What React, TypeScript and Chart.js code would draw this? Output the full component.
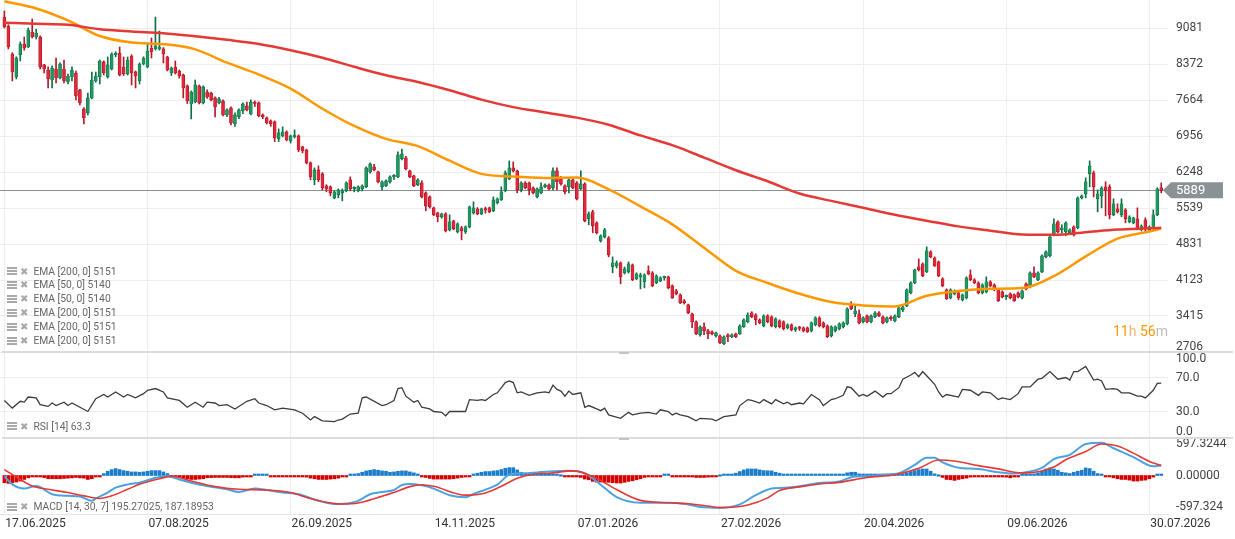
import React, { useEffect, useRef } from "react";
import { Chart, registerables } from "chart.js";

Chart.register(...registerables);

// ---------- data ----------
const dateLabels = ["17.06.2025", "07.08.2025", "26.09.2025", "14.11.2025", "07.01.2026", "27.02.2026", "20.04.2026", "09.06.2026", "30.07.2026"];
const dateTickIdx = [0, 36, 72, 108, 144, 180, 216, 252, 288];
const priceTicks = [2706, 3415, 4123, 4831, 5539, 6248, 6956, 7664, 8372, 9081];
const rsiTicks = [0, 30, 70, 100];
const macdTicks = [-597.324, 0, 597.3244];
const macdTickLabels = ["-597.324", "0.00000", "597.3244"];
const lastPrice = 5889;

// [open, high, low, close]
const ohlc: number[][] = [
  [9303, 9421, 9087, 9107], [9126, 9150, 8674, 8713], [8575, 8600, 8044, 8221], [8122, 8520, 8083, 8496], [8556, 8811, 8438, 8772],
  [8772, 8910, 8650, 8693], [8713, 9087, 8700, 9047], [9008, 9264, 8890, 8910], [8910, 9060, 8870, 8988], [8910, 8930, 8280, 8320],
  [8359, 8370, 8200, 8280], [8260, 8320, 7906, 8083], [8063, 8340, 7906, 8299], [8280, 8496, 8003, 8103], [8103, 8400, 8083, 8378],
  [8280, 8457, 8003, 8044], [8024, 8181, 7985, 8142], [8122, 8320, 8044, 8260], [8201, 8240, 7670, 7749], [7867, 7880, 7571, 7611],
  [7493, 7520, 7198, 7316], [7414, 7807, 7375, 7709], [7709, 8220, 7690, 8063], [8044, 8220, 8020, 8142], [8122, 8457, 7985, 8437],
  [8418, 8440, 8162, 8201], [8122, 8516, 8100, 8359], [8280, 8600, 8260, 8575], [8560, 8620, 8520, 8590], [8595, 8713, 8142, 8162],
  [8319, 8516, 8150, 8181], [8181, 8516, 8160, 8457], [8536, 8560, 7965, 8201], [8221, 8240, 7906, 8142], [8044, 8400, 7985, 8378],
  [8378, 8520, 8360, 8496], [8319, 8772, 8300, 8634], [8693, 8890, 8496, 8614], [8674, 9303, 8650, 8733], [8674, 9028, 8650, 8713],
  [8674, 8700, 8398, 8575], [8516, 8530, 8240, 8260], [8201, 8320, 8150, 8299], [8319, 8437, 8180, 8201], [8240, 8260, 8100, 8142],
  [8162, 8180, 7709, 7906], [7946, 7965, 7600, 7650], [7591, 7846, 7296, 7827], [7630, 8063, 7611, 7965], [7946, 7965, 7591, 7611],
  [7611, 7946, 7591, 7926], [7827, 7867, 7700, 7729], [7807, 7827, 7650, 7670], [7709, 7729, 7335, 7532], [7611, 7720, 7590, 7690],
  [7650, 7670, 7355, 7375], [7375, 7493, 7340, 7473], [7513, 7532, 7180, 7217], [7198, 7414, 7150, 7375], [7336, 7493, 7300, 7473],
  [7454, 7611, 7400, 7591], [7552, 7630, 7454, 7473], [7395, 7670, 7375, 7630], [7620, 7650, 7540, 7600], [7611, 7630, 7336, 7355],
  [7375, 7395, 7300, 7336], [7316, 7336, 7198, 7217], [7257, 7277, 7150, 7198], [7237, 7257, 6850, 6922], [6902, 7100, 6850, 7021],
  [6962, 7139, 6940, 7040], [7040, 7060, 6863, 6883], [6863, 6980, 6820, 6962], [6940, 7080, 6920, 6980], [6962, 6980, 6650, 6686],
  [6745, 6760, 6627, 6666], [6686, 6700, 6410, 6430], [6430, 6450, 6100, 6155], [6096, 6332, 6000, 6293], [6293, 6372, 6060, 6096],
  [6214, 6240, 5900, 5938], [5978, 6000, 5860, 5919], [5958, 5978, 5780, 5840], [5742, 5880, 5722, 5860], [5801, 5919, 5742, 5899],
  [5840, 5919, 5683, 5880], [5879, 6057, 5860, 6037], [6096, 6155, 5880, 5919], [5919, 5960, 5860, 5940], [5879, 5978, 5860, 5958],
  [5919, 6000, 5880, 5978], [5958, 6352, 5940, 6332], [6253, 6430, 6230, 6411], [6352, 6400, 6270, 6293], [6253, 6270, 6037, 6057],
  [5958, 6076, 5900, 6057], [5978, 6096, 5960, 6076], [6057, 6175, 6030, 6155], [6155, 6200, 6100, 6175], [6155, 6650, 6140, 6588],
  [6509, 6700, 6490, 6608], [6529, 6560, 6290, 6312], [6273, 6290, 6140, 6155], [6175, 6190, 5960, 5978], [5997, 6120, 5980, 6096],
  [6037, 6080, 5740, 5761], [5840, 5860, 5486, 5584], [5761, 5780, 5540, 5565], [5545, 5560, 5390, 5407], [5447, 5460, 5270, 5368],
  [5368, 5440, 5340, 5427], [5427, 5450, 5070, 5092], [5112, 5407, 5090, 5270], [5289, 5300, 5110, 5132], [5073, 5250, 5050, 5230],
  [5151, 5180, 4915, 5092], [5073, 5190, 5040, 5171], [5171, 5580, 5150, 5565], [5447, 5663, 5420, 5545], [5525, 5550, 5410, 5427],
  [5427, 5540, 5410, 5525], [5525, 5560, 5440, 5500], [5545, 5560, 5450, 5466], [5486, 5761, 5470, 5702], [5643, 5740, 5620, 5722],
  [5702, 5958, 5690, 5860], [5880, 6273, 5860, 6234], [6115, 6470, 6100, 6332], [6332, 6450, 6250, 6273], [6273, 6290, 5840, 5900],
  [5900, 6060, 5860, 6037], [6037, 6060, 5920, 5938], [6037, 6050, 5800, 5900], [5938, 5960, 5820, 5840], [5761, 5940, 5740, 5919],
  [5840, 6037, 5820, 5958], [5958, 6020, 5940, 5997], [5997, 6020, 5900, 5919], [5938, 6332, 5900, 6273], [6273, 6332, 5900, 6057],
  [6115, 6160, 5990, 6017], [5978, 6000, 5820, 5860], [5958, 6115, 5840, 6096], [6096, 6115, 5920, 5938], [6037, 6060, 5700, 5722],
  [5919, 6273, 5900, 6017], [6017, 6040, 5270, 5289], [5329, 5466, 5210, 5427], [5466, 5500, 5053, 5191], [5250, 5270, 5030, 5053],
  [4896, 5013, 4870, 4994], [4974, 5140, 4950, 5112], [4955, 4980, 4580, 4620], [4384, 4580, 4265, 4463], [4400, 4500, 4360, 4463],
  [4463, 4480, 4049, 4187], [4266, 4380, 4240, 4344], [4285, 4480, 4260, 4443], [4423, 4440, 4110, 4128], [4148, 4266, 4130, 4246],
  [4187, 4260, 3950, 4226], [4089, 4246, 3970, 4226], [4305, 4403, 4226, 4246], [4266, 4290, 3990, 4010], [4069, 4226, 4050, 4207],
  [4108, 4187, 4090, 4167], [4167, 4200, 4120, 4180], [4187, 4200, 3950, 3970], [4010, 4030, 3760, 3773], [3911, 3940, 3830, 3852],
  [3832, 3850, 3660, 3675], [3714, 3740, 3650, 3675], [3636, 3650, 3460, 3478], [3458, 3470, 3183, 3301], [3301, 3320, 3045, 3065],
  [3045, 3222, 3020, 3203], [3203, 3281, 3045, 3124], [3124, 3150, 2967, 3065], [3104, 3124, 3040, 3065], [3025, 3100, 3000, 3085],
  [3025, 3045, 2870, 2888], [2868, 3025, 2850, 3006], [3045, 3065, 2908, 3006], [3006, 3065, 2990, 3045], [3065, 3080, 2990, 3006],
  [3065, 3240, 3050, 3222], [3203, 3360, 3190, 3340], [3301, 3478, 3280, 3439], [3478, 3500, 3380, 3399], [3439, 3460, 3242, 3340],
  [3340, 3360, 3260, 3281], [3222, 3439, 3200, 3419], [3419, 3440, 3280, 3301], [3399, 3420, 3200, 3222], [3203, 3380, 3180, 3360],
  [3321, 3340, 3180, 3203], [3301, 3320, 3140, 3163], [3183, 3260, 3160, 3242], [3242, 3260, 3120, 3144], [3144, 3200, 3110, 3183],
  [3183, 3210, 3130, 3170], [3183, 3200, 3100, 3124], [3183, 3200, 3090, 3104], [3124, 3300, 3100, 3281], [3242, 3400, 3220, 3380],
  [3380, 3400, 3200, 3222], [3281, 3300, 3180, 3203], [3222, 3240, 2990, 3006], [3025, 3222, 3000, 3203], [3124, 3220, 3100, 3203],
  [3163, 3280, 3140, 3262], [3203, 3300, 3180, 3281], [3262, 3577, 3240, 3557], [3636, 3695, 3540, 3557], [3458, 3616, 3400, 3518],
  [3458, 3537, 3260, 3281], [3301, 3400, 3280, 3380], [3419, 3440, 3280, 3301], [3301, 3440, 3280, 3419], [3399, 3500, 3380, 3478],
  [3478, 3500, 3400, 3419], [3399, 3420, 3260, 3281], [3301, 3400, 3280, 3380], [3380, 3420, 3330, 3360], [3321, 3440, 3300, 3419],
  [3399, 3600, 3380, 3577], [3537, 3620, 3500, 3597], [3616, 3950, 3600, 3931], [3872, 4090, 3850, 4069], [4069, 4340, 4050, 4325],
  [4384, 4541, 4300, 4325], [4443, 4460, 4190, 4207], [4285, 4777, 4270, 4698], [4679, 4700, 4560, 4580], [4561, 4580, 4390, 4403],
  [4482, 4500, 4190, 4207], [4148, 4170, 3990, 4010], [3931, 3950, 3740, 3754], [3773, 3950, 3750, 3931], [3852, 3930, 3830, 3891],
  [3872, 3890, 3734, 3773], [3734, 3850, 3710, 3832], [3773, 4187, 3750, 4167], [4226, 4324, 4110, 4128], [4128, 4150, 4050, 4069],
  [4069, 4090, 3850, 3872], [3872, 4050, 3850, 4030], [3891, 4187, 3870, 4089], [4089, 4110, 3990, 4010], [4030, 4050, 3910, 3931],
  [3931, 3950, 3700, 3714], [3891, 3910, 3770, 3793], [3793, 3830, 3740, 3800], [3852, 3870, 3750, 3773], [3832, 3850, 3700, 3714],
  [3872, 3890, 3770, 3793], [3773, 3930, 3750, 3911], [4049, 4070, 3930, 3950], [3990, 4285, 3970, 4266], [4266, 4384, 4170, 4187],
  [4128, 4285, 4110, 4266], [4285, 4620, 4270, 4600], [4580, 4700, 4560, 4679], [4600, 4990, 4580, 4974], [5013, 5328, 4990, 5230],
  [5270, 5290, 5050, 5073], [5112, 5210, 5053, 5151], [5073, 5270, 4994, 5250], [5053, 5130, 5030, 5112], [5171, 5190, 4990, 5013],
  [5151, 5760, 5130, 5742], [5742, 5800, 5720, 5781], [5820, 6135, 5742, 6057], [6214, 6470, 5958, 6372], [6234, 6270, 5761, 5958],
  [5722, 5899, 5466, 5821], [5781, 5960, 5545, 5939], [5958, 6060, 5388, 5880], [5958, 6000, 5328, 5407], [5407, 5722, 5390, 5624],
  [5525, 5624, 5440, 5466], [5407, 5722, 5368, 5624], [5506, 5530, 5250, 5329], [5270, 5390, 5250, 5368], [5250, 5360, 5230, 5348],
  [5329, 5545, 5110, 5132], [5112, 5210, 5090, 5191], [5309, 5348, 5073, 5151], [5112, 5190, 5090, 5171], [5151, 5505, 5130, 5407],
  [5407, 5940, 5390, 5919], [5938, 6037, 5840, 5889],
];

const emaIdx = [0, 8, 16, 24, 32, 40, 48, 56, 64, 72, 80, 88, 96, 104, 112, 120, 128, 136, 144, 152, 160, 168, 176, 184, 192, 200, 208, 216, 224, 232, 240, 248, 256, 264, 272, 280, 288, 291];
const ema200 = [9191, 9172, 9150, 9061, 9018, 8985, 8924, 8853, 8772, 8650, 8502, 8323, 8156, 8024, 7861, 7676, 7528, 7424, 7322, 7182, 6971, 6780, 6534, 6286, 6068, 5826, 5682, 5546, 5409, 5292, 5180, 5096, 5019, 5013, 5064, 5116, 5141, 5151];
const ema50 = [9612, 9471, 9235, 8930, 8802, 8768, 8666, 8404, 8170, 7894, 7497, 7158, 6903, 6761, 6473, 6214, 6161, 6135, 6141, 5909, 5574, 5220, 4759, 4305, 4065, 3852, 3689, 3624, 3604, 3813, 3905, 3950, 3964, 4200, 4588, 4940, 5080, 5140];

// [candle index, RSI]
const rsi: number[][] = [
  [0, 43], [2, 34], [4, 42], [5, 41], [6, 47], [8, 46], [9, 38], [11, 36], [12, 40], [13, 37], [15, 41], [16, 37], [17, 40], [19, 35], [21, 30],
  [23, 45], [25, 50], [26, 47], [28, 53], [30, 47], [31, 50], [33, 46], [35, 51], [36, 55], [38, 57], [40, 53], [41, 46], [44, 43], [46, 35],
  [48, 41], [50, 35], [51, 41], [53, 40], [54, 37], [56, 38], [58, 33], [61, 42], [63, 45], [64, 40], [66, 37], [68, 32], [70, 34], [73, 32],
  [75, 28], [77, 20], [78, 24], [80, 19], [83, 18], [84, 20], [85, 21], [87, 27], [89, 28], [90, 46], [91, 47], [95, 37], [96, 38], [98, 43],
  [99, 57], [100, 58], [101, 48], [103, 41], [104, 43], [105, 35], [107, 33], [108, 30], [110, 29], [111, 25], [112, 30], [114, 30], [116, 30],
  [117, 44], [119, 43], [120, 44], [121, 43], [123, 50], [124, 52], [126, 64], [127, 66], [128, 64], [129, 52], [130, 53], [132, 49], [134, 52],
  [136, 53], [137, 52], [138, 61], [139, 56], [140, 54], [141, 48], [142, 54], [143, 50], [145, 52], [146, 35], [147, 37], [149, 33], [150, 31],
  [151, 34], [152, 26], [155, 22], [157, 29], [158, 26], [160, 28], [162, 29], [164, 27], [165, 32], [167, 30], [168, 26], [169, 28], [170, 26],
  [172, 24], [174, 19], [175, 22], [178, 21], [179, 19], [181, 24], [184, 26], [185, 37], [187, 44], [188, 43], [190, 40], [191, 44], [193, 39],
  [194, 44], [196, 39], [197, 41], [198, 38], [200, 40], [201, 39], [203, 50], [205, 44], [206, 37], [208, 44], [209, 45], [211, 49], [212, 59],
  [213, 58], [215, 48], [216, 50], [217, 48], [219, 54], [221, 47], [222, 51], [223, 51], [225, 58], [226, 68], [228, 73], [229, 76], [230, 71],
  [231, 77], [232, 72], [234, 62], [235, 53], [236, 47], [237, 50], [240, 47], [241, 56], [243, 55], [245, 49], [246, 53], [248, 52], [250, 44],
  [251, 46], [253, 44], [255, 51], [256, 59], [258, 59], [260, 68], [261, 69], [263, 77], [265, 68], [267, 70], [268, 67], [269, 77], [270, 77],
  [272, 83], [274, 67], [275, 68], [276, 66], [277, 56], [279, 57], [280, 56], [281, 52], [283, 52], [285, 48], [286, 48], [287, 46], [289, 55],
  [290, 63], [291, 63.3],
];

// [candle index, MACD]
const macdLine: number[][] = [
  [0, -13], [2, -168], [5, -248], [8, -200], [12, -355], [16, -386], [19, -398], [22, -480], [23, -435], [26, -323], [28, -230], [31, -168],
  [34, -136], [38, -43], [41, -13], [44, -75], [47, -136], [51, -200], [56, -261], [59, -312], [63, -248], [66, -274], [70, -323], [74, -355],
  [79, -480], [83, -541], [87, -523], [89, -480], [92, -355], [95, -312], [98, -274], [100, -180], [102, -162], [105, -187], [108, -248],
  [112, -373], [116, -411], [118, -349], [121, -267], [124, -174], [127, 13], [131, 43], [137, 75], [142, 88], [146, 43], [150, -174],
  [154, -411], [160, -517], [167, -517], [171, -536], [175, -597], [180, -610], [185, -547], [189, -373], [193, -248], [198, -224],
  [205, -144], [210, -112], [214, -19], [217, -19], [221, 13], [225, 43], [229, 200], [232, 336], [234, 336], [236, 248], [240, 149],
  [245, 125], [250, 62], [254, 37], [257, 62], [261, 144], [264, 312], [268, 392], [272, 597], [276, 622], [279, 517], [284, 349],
  [289, 174], [291, 195.27],
];
// [candle index, signal]
const signalLine: number[][] = [
  [0, 112], [4, -75], [7, -200], [11, -261], [16, -323], [20, -386], [24, -435], [27, -386], [31, -261], [34, -168], [39, -62], [42, -13],
  [47, -106], [53, -211], [59, -261], [66, -274], [72, -323], [77, -435], [85, -541], [89, -523], [94, -416], [98, -323], [102, -211],
  [105, -174], [108, -205], [116, -373], [121, -330], [125, -205], [129, -50], [133, 24], [137, 43], [143, 88], [148, -19], [154, -267],
  [160, -472], [167, -517], [172, -536], [177, -579], [180, -610], [187, -560], [192, -424], [195, -286], [200, -215], [205, -162],
  [210, -131], [217, -37], [224, 13], [230, 136], [235, 293], [239, 274], [245, 187], [250, 125], [254, 62], [257, 50], [264, 162],
  [267, 299], [272, 454], [276, 597], [280, 560], [284, 424], [288, 267], [291, 187.19],
];
// histogram, one per candle
const macdHist = [
  -137, -149, -137, -124, -106, -75, -44, -12, -8, -10, -40, -62, -62, -62, -62, -56, -50, -45, -37, -45, -50, -75, -62, -25, -4, 37, 81, 112, 131, 112,
  93, 81, 68, 68, 62, 68, 81, 93, 93, 93, 68, 37, -4, -12, -31, -50, -62, -75, -75, -68, -62, -44, -40, -37, -37, -37, -37, -40, -44, -44,
  -31, -10, -4, 6, 6, 6, 6, -6, -25, -25, -19, -12, -19, -25, -25, -28, -31, -50, -62, -75, -75, -75, -68, -62, -50, -25, -6, 6, 19, 37,
  62, 87, 100, 112, 100, 87, 81, 62, 68, 80, 87, 87, 68, 50, 25, -19, -37, -55, -68, -68, -68, -68, -68, -62, -50, -37, -25, -12, 25, 44,
  62, 75, 75, 87, 93, 112, 137, 149, 149, 106, 62, 25, 19, 19, 19, 25, 37, 12, 6, 6, 0, -6, -6, -12, -19, -37, -68, -81, -112, -124,
  -124, -130, -130, -137, -143, -143, -130, -112, -100, -81, -62, -37, -19, -6, -6, -6, 6, 6, -6, -6, -12, -12, -25, -25, -37, -37, -37, -31, -19, -6,
  0, 12, 25, 25, 44, 75, 106, 124, 124, 124, 106, 93, 90, 87, 62, 44, 25, 25, 25, 25, 12, 12, 12, 25, 25, 12, 12, 6, 6, 12,
  12, 25, 50, 62, 62, 31, 12, 6, 6, 6, 6, 6, 6, 6, 12, 19, 31, 50, 75, 93, 112, 124, 124, 81, 31, 0, -37, -75, -81, -93,
  -75, -62, -50, -31, -12, -12, -12, -12, -12, -12, -19, -25, -31, -44, -25, -12, 6, 19, 31, 31, 50, 81, 124, 143, 124, 100, 62, 50, 37, 62,
  81, 100, 143, 131, 81, 37, 6, -12, -25, -44, -62, -75, -75, -87, -106, -106, -93, -87, -62, -31, 6, 6,
];

const emaLegend = ["EMA [200, 0] 5151", "EMA [50, 0] 5140", "EMA [50, 0] 5140", "EMA [200, 0] 5151", "EMA [200, 0] 5151", "EMA [200, 0] 5151"];
const rsiLegend = "RSI [14] 63.3";
const macdLegend = "MACD [14, 30, 7] 195.27025, 187.18953";

// ---------- layout / style ----------
const W = 1235;
const AXIS_W = 67;
const X_MIN = -1.1;
const X_MAX = 292.7;
const FONT = "Roboto, 'Noto Sans', sans-serif";
const GRID = "#eeeeee";

Chart.defaults.font.family = FONT;

function xScale(showLabels: boolean): any {
  return {
    type: "linear",
    min: X_MIN,
    max: X_MAX,
    offset: false,
    afterBuildTicks: (s: any) => {
      s.ticks = dateTickIdx.map((v) => ({ value: v }));
    },
    afterFit: (s: any) => {
      s.height = showLabels ? 25 : 0;
    },
    grid: { color: GRID, drawTicks: false, lineWidth: 1, offset: false },
    border: { display: showLabels, color: "#e6e6e6" },
    ticks: {
      display: showLabels,
      autoSkip: false,
      maxRotation: 0,
      align: "start",
      labelOffset: 1,
      padding: 3,
      color: "#333",
      font: { size: 12, family: FONT },
      callback: (v: number) => {
        const k = dateTickIdx.indexOf(v);
        return k >= 0 ? dateLabels[k] : "";
      },
    },
  };
}

function yScale(min: number, max: number, ticks: number[], showGrid: boolean): any {
  return {
    type: "linear",
    position: "right",
    min,
    max,
    afterBuildTicks: (s: any) => {
      s.ticks = ticks.map((v) => ({ value: v }));
    },
    afterFit: (s: any) => {
      s.width = AXIS_W;
    },
    ticks: { display: false },
    grid: { display: showGrid, color: GRID, drawTicks: false },
    border: { display: false },
  };
}

function yLabelPlugin(ticks: number[], fmt: (v: number, i: number) => string) {
  return {
    id: "yLabels",
    afterDraw(chart: any) {
      const s = chart.scales.y;
      const ctx = chart.ctx;
      ctx.save();
      ctx.font = `12px ${FONT}`;
      ctx.fillStyle = "#444";
      ctx.textAlign = "left";
      ctx.textBaseline = "middle";
      ticks.forEach((v, i) => {
        let y = s.getPixelForValue(v);
        y = Math.min(Math.max(y, s.top + 6.5), s.bottom - 5.5);
        ctx.fillText(fmt(v, i), chart.chartArea.right + 8, y);
      });
      ctx.restore();
    },
  };
}

const priceLinePlugin = {
  id: "priceLine",
  beforeDatasetsDraw(chart: any) {
    const { ctx, chartArea } = chart;
    const y = Math.round(chart.scales.y.getPixelForValue(lastPrice)) + 0.5;
    ctx.save();
    ctx.strokeStyle = "#8a9296";
    ctx.lineWidth = 1;
    ctx.beginPath();
    ctx.moveTo(chartArea.left, y);
    ctx.lineTo(chartArea.right, y);
    ctx.stroke();
    ctx.restore();
  },
  afterDraw(chart: any) {
    const { ctx, chartArea } = chart;
    const y = chart.scales.y.getPixelForValue(lastPrice);
    const tip = chartArea.right - 5;
    ctx.save();
    ctx.fillStyle = "#8a9296";
    ctx.beginPath();
    ctx.moveTo(tip, y);
    ctx.lineTo(tip + 8, y - 8);
    ctx.lineTo(tip + 60, y - 8);
    ctx.lineTo(tip + 60, y + 8);
    ctx.lineTo(tip + 8, y + 8);
    ctx.closePath();
    ctx.fill();
    ctx.fillStyle = "#ffffff";
    ctx.font = `13px ${FONT}`;
    ctx.textAlign = "left";
    ctx.textBaseline = "middle";
    ctx.fillText(String(lastPrice), tip + 13, y + 0.5);
    ctx.restore();
  },
};

const baseOptions = {
  animation: false as const,
  responsive: false,
  maintainAspectRatio: false,
  layout: { padding: 0 },
  events: [] as any[],
  plugins: { legend: { display: false }, tooltip: { enabled: false } },
};

function LegendRow({ text, top }: { text: string; top: number }) {
  return (
    <div style={{ position: "absolute", left: 7, top: top - 7, height: 14, display: "flex", alignItems: "center", whiteSpace: "nowrap" }}>
      <div
        style={{
          width: 10,
          height: 9,
          background: "repeating-linear-gradient(to bottom, #a9a9a9 0px, #a9a9a9 2px, #ffffff 2px, #ffffff 3px)",
          marginRight: 3,
        }}
      />
      <span style={{ color: "#a9a9a9", fontSize: 10, fontFamily: "'DejaVu Sans', sans-serif", marginRight: 5, lineHeight: "14px" }}>✖</span>
      <span style={{ color: "#666", fontSize: 10.3, fontFamily: FONT, lineHeight: "14px" }}>{text}</span>
    </div>
  );
}

export default function App() {
  const mainRef = useRef<HTMLCanvasElement>(null);
  const rsiRef = useRef<HTMLCanvasElement>(null);
  const macdRef = useRef<HTMLCanvasElement>(null);

  useEffect(() => {
    document.body.style.margin = "0";
    const charts: Chart[] = [];
    const up = ohlc.map((c) => c[3] >= c[0]);

    // main price chart
    charts.push(
      new Chart(mainRef.current as HTMLCanvasElement, {
        type: "bar",
        data: {
          datasets: [
            {
              type: "line",
              data: emaIdx.map((x, i) => ({ x, y: ema200[i] })),
              borderColor: "#e53935",
              borderWidth: 2.5,
              pointRadius: 0,
              cubicInterpolationMode: "monotone",
              order: 0,
            } as any,
            {
              type: "line",
              data: emaIdx.map((x, i) => ({ x, y: ema50[i] })),
              borderColor: "#ff9800",
              borderWidth: 2.5,
              pointRadius: 0,
              cubicInterpolationMode: "monotone",
              order: 1,
            } as any,
            {
              type: "bar",
              data: ohlc.map((c, i) => ({ x: i, y: [c[0], c[3]] })),
              backgroundColor: up.map((u) => (u ? "#1c9a61" : "#e2283b")),
              borderColor: up.map((u) => (u ? "#0f6b43" : "#a8121f")),
              borderWidth: 0.6,
              borderSkipped: false,
              barThickness: 3,
              minBarLength: 1.5,
              grouped: false,
              order: 2,
            } as any,
            {
              type: "bar",
              data: ohlc.map((c, i) => ({ x: i, y: [c[2], c[1]] })),
              backgroundColor: up.map((u) => (u ? "#0f6e45" : "#b5192b")),
              barThickness: 1,
              grouped: false,
              order: 3,
            } as any,
          ],
        },
        options: {
          ...baseOptions,
          scales: {
            x: xScale(false),
            y: yScale(2706, 9638, priceTicks, true),
          },
        } as any,
        plugins: [priceLinePlugin, yLabelPlugin(priceTicks, (v) => String(v))],
      })
    );

    // RSI
    charts.push(
      new Chart(rsiRef.current as HTMLCanvasElement, {
        type: "line",
        data: {
          datasets: [
            {
              data: rsi.map((p) => ({ x: p[0], y: p[1] })),
              borderColor: "#3c3c3c",
              borderWidth: 1.3,
              pointRadius: 0,
              tension: 0,
            },
          ],
        },
        options: {
          ...baseOptions,
          scales: {
            x: xScale(false),
            y: yScale(0, 100, rsiTicks, true),
          },
        } as any,
        plugins: [yLabelPlugin(rsiTicks, (v) => v.toFixed(1))],
      })
    );

    // MACD
    charts.push(
      new Chart(macdRef.current as HTMLCanvasElement, {
        type: "bar",
        data: {
          datasets: [
            {
              type: "line",
              data: macdLine.map((p) => ({ x: p[0], y: p[1] })),
              borderColor: "#4aa3e0",
              borderWidth: 2,
              pointRadius: 0,
              cubicInterpolationMode: "monotone",
              order: 1,
            } as any,
            {
              type: "line",
              data: signalLine.map((p) => ({ x: p[0], y: p[1] })),
              borderColor: "#e53935",
              borderWidth: 1.6,
              pointRadius: 0,
              cubicInterpolationMode: "monotone",
              order: 0,
            } as any,
            {
              type: "bar",
              data: macdHist.map((v, i) => ({ x: i, y: v })),
              backgroundColor: macdHist.map((v) => (v >= 0 ? "#1a7dcc" : "#d50000")),
              barThickness: 3,
              minBarLength: 1.5,
              grouped: false,
              order: 2,
            } as any,
          ],
        },
        options: {
          ...baseOptions,
          scales: {
            x: xScale(true),
            y: yScale(-730, 730, macdTicks, false),
          },
        } as any,
        plugins: [yLabelPlugin(macdTicks, (_v, i) => macdTickLabels[i])],
      })
    );

    return () => charts.forEach((c) => c.destroy());
  }, []);

  const abs = (top: number, height: number): React.CSSProperties => ({ position: "absolute", left: 0, top, width: W, height, display: "block" });

  return (
    <div style={{ position: "fixed", left: 0, top: 0, width: W, height: 539, background: "#fff", overflow: "hidden", fontFamily: FONT }}>
      <canvas ref={mainRef} width={W} height={352} style={abs(0, 352)} />
      <canvas ref={rsiRef} width={W} height={85} style={abs(352, 85)} />
      <canvas ref={macdRef} width={W} height={102} style={abs(437, 102)} />

      {/* panel separators */}
      <div style={{ position: "absolute", left: 2, top: 351, width: W - 4, height: 2, background: "#dcdcdc" }} />
      <div style={{ position: "absolute", left: 2, top: 437, width: W - 4, height: 2, background: "#dcdcdc" }} />
      <div style={{ position: "absolute", left: 619, top: 352, width: 10, height: 2, background: "#c4c4c4" }} />
      <div style={{ position: "absolute", left: 619, top: 438, width: 10, height: 2, background: "#c4c4c4" }} />

      {emaLegend.map((t, i) => (
        <LegendRow key={i} text={t} top={271.5 + i * 13.9} />
      ))}
      <LegendRow text={rsiLegend} top={426.5} />
      <LegendRow text={macdLegend} top={507} />

      <div style={{ position: "absolute", left: 1113, top: 322, fontSize: 14, lineHeight: "18px", whiteSpace: "nowrap", fontFamily: FONT }}>
        <span style={{ color: "#ff9800" }}>11</span>
        <span style={{ color: "#f4b56a" }}>h </span>
        <span style={{ color: "#ff9800" }}>56</span>
        <span style={{ color: "#bdbdbd" }}>m</span>
      </div>
    </div>
  );
}
